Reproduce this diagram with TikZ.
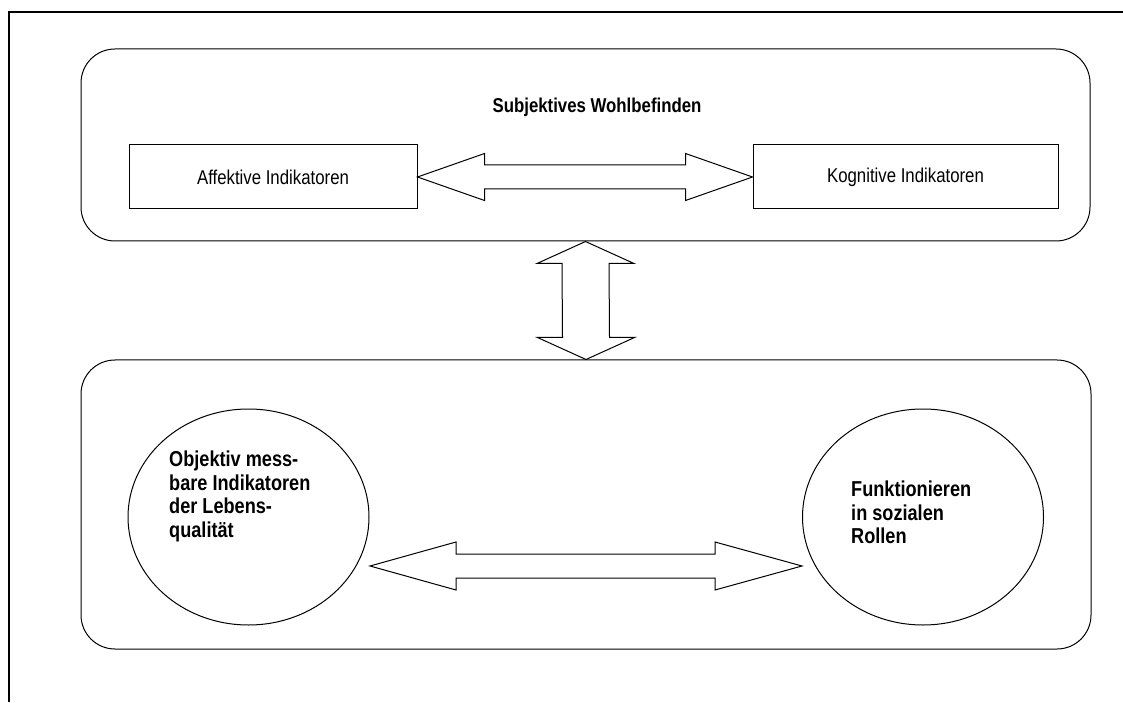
\documentclass[tikz,border=0pt]{standalone}
\usepackage{fontspec}
\setmainfont{Liberation Sans}[FakeStretch=0.84]
\usetikzlibrary{positioning,calc,shapes.geometric}
\tikzset{
  grp/.style={draw,line width=1pt,rounded corners=34pt,inner sep=0pt},
  ind/.style={draw,line width=1pt,inner sep=0pt,minimum height=64pt,font=\fontsize{20}{24}\selectfont},
  ell/.style={draw,ellipse,line width=1pt,inner sep=0pt,minimum width=241pt,minimum height=216pt},
  etxt/.style={anchor=north west,inner sep=0pt,align=left,font=\fontsize{21.6}{23.5}\selectfont\bfseries},
  fat/.style={draw,line width=1pt,line join=miter}
}

\begin{document}
\begin{tikzpicture}[x=1pt,y=1pt]
\useasboundingbox (0,0) rectangle (1123,702);
\draw[line width=1.2pt] (9,0) -- (9,690) -- (1123,690);

\node[grp,minimum width=1009pt,minimum height=192pt] (wohl) at (585.5,557) {};
\node[grp,minimum width=1010pt,minimum height=289pt] (obj) at (586,197.5) {};
\node[font=\fontsize{20}{24}\selectfont\bfseries] (title) at (597,595) {Subjektives Wohlbefinden};

\node[ind,minimum width=288pt] (aff) at (273,525) {Affektive Indikatoren};
\node[ind,minimum width=305pt] (kog) at (905.5,525) {Kognitive Indikatoren};

\node[ell] (mess) at (248.5,185) {};
\node[ell] (rolle) at (923,185) {};
\node[etxt] (messtxt) at (169,251) {Objektiv mess-\\bare Indikatoren\\der Lebens-\\qualität};
\node[etxt] (rolletxt) at (851,221) {Funktionieren\\in sozialen\\Rollen};

\coordinate (ql) at (370,136);
\coordinate (qr) at (802,136);

\draw[fat] (aff.east) -- ++(67,23.5) -- ++(0,-11.5) -- ($(kog.west)+(-67,12)$) -- ++(0,11.5) -- (kog.west)
  -- ++(-67,-23.5) -- ++(0,11.5) -- ($(aff.east)+(67,-12)$) -- ++(0,-11.5) -- cycle;
\draw[fat] (wohl.south) -- ++(-48.5,-22) -- ++(25,0) -- ($(obj.north)+(-23.5,22)$) -- ++(-25,0) -- (obj.north)
  -- ++(48.5,22) -- ++(-25,0) -- ($(wohl.south)+(23.5,-22)$) -- ++(25,0) -- cycle;
\draw[fat] (ql) -- ++(86,24) -- ++(0,-12) -- ($(qr)+(-87,12)$) -- ++(0,12) -- (qr)
  -- ++(-87,-24) -- ++(0,12) -- ($(ql)+(86,-12)$) -- ++(0,-12) -- cycle;
\end{tikzpicture}
\end{document}
